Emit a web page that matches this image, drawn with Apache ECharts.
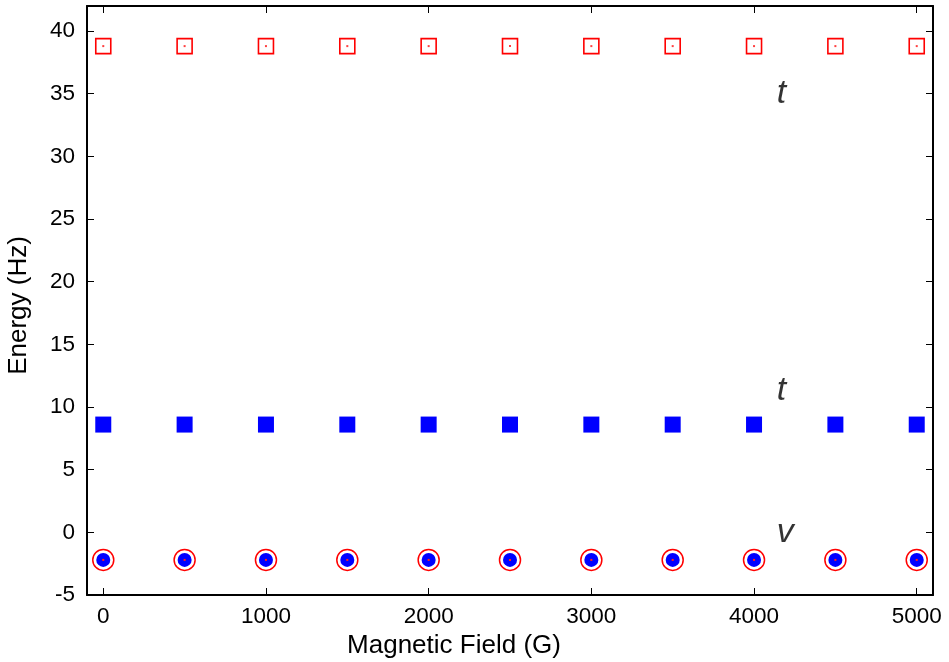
<!DOCTYPE html>
<html>
<head>
<meta charset="utf-8">
<script src="https://cdn.jsdelivr.net/npm/echarts@6/dist/echarts.min.js"></script>
<style>
html,body{margin:0;padding:0;background:#fff;}
#chart{width:949px;height:662px;}
</style>
</head>
<body>
<div id="chart"></div>
<script>
// Magnetic field values (G)
var fieldValues = [0, 500, 1000, 1500, 2000, 2500, 3000, 3500, 4000, 4500, 5000];
// Energies (Hz)
var upperT = [38.8, 38.8, 38.8, 38.8, 38.8, 38.8, 38.8, 38.8, 38.8, 38.8, 38.8];
var lowerT = [8.6, 8.6, 8.6, 8.6, 8.6, 8.6, 8.6, 8.6, 8.6, 8.6, 8.6];
var vState = [-2.2, -2.2, -2.2, -2.2, -2.2, -2.2, -2.2, -2.2, -2.2, -2.2, -2.2];
// State labels in data coordinates
var annoX = [4169, 4169, 4192];
var annoY = [35.0, 11.3, 0.0];
var annoText = ['t', 't', 'v'];

function pairs(xs, ys) {
  return xs.map(function (x, i) { return [x, ys[i]]; });
}

var FONT = 'Liberation Sans, Arial, Helvetica, sans-serif';
var chart = echarts.init(document.getElementById('chart'), null, {renderer: 'canvas'});

var axisLineStyle = {color: '#000', width: 2};
var tickStyle = {inside: true, length: 7, lineStyle: {color: '#000', width: 1}};
var plainFmt = function (v) { return String(v); };

var option = {
  backgroundColor: '#fff',
  animation: false,
  grid: {left: 87, right: 16, top: 6, bottom: 67, containLabel: false, outerBoundsMode: 'none'},
  xAxis: [
    {
      type: 'value', min: -100, max: 5100, splitNumber: 5, minInterval: 1000, maxInterval: 1000,
      position: 'bottom',
      name: 'Magnetic Field (G)', nameLocation: 'middle', nameGap: 29,
      nameTextStyle: {fontFamily: FONT, fontSize: 26, color: '#000', padding: [0, 112, 0, 0]},
      axisLine: {show: true, onZero: false, lineStyle: axisLineStyle},
      axisTick: tickStyle,
      axisLabel: {fontFamily: FONT, fontSize: 22.5, color: '#000', margin: 10, formatter: plainFmt, showMinLabel: false, showMaxLabel: false},
      splitLine: {show: false}
    },
    {
      type: 'value', min: -100, max: 5100, splitNumber: 5, minInterval: 1000, maxInterval: 1000,
      position: 'top',
      axisLine: {show: true, onZero: false, lineStyle: axisLineStyle},
      axisTick: tickStyle,
      axisLabel: {show: false},
      splitLine: {show: false}
    }
  ],
  yAxis: [
    {
      type: 'value', min: -5, max: 42, interval: 5,
      position: 'left',
      name: 'Energy (Hz)', nameLocation: 'middle', nameGap: 55,
      nameTextStyle: {fontFamily: FONT, fontSize: 26, color: '#000', padding: [0, 10, 0, 0]},
      axisLine: {show: true, onZero: false, lineStyle: axisLineStyle},
      axisTick: tickStyle,
      axisLabel: {fontFamily: FONT, fontSize: 22.5, color: '#000', margin: 12, formatter: plainFmt, showMaxLabel: false},
      splitLine: {show: false}
    },
    {
      type: 'value', min: -5, max: 42, interval: 5,
      position: 'right',
      axisLine: {show: true, onZero: false, lineStyle: axisLineStyle},
      axisTick: tickStyle,
      axisLabel: {show: false},
      splitLine: {show: false}
    }
  ],
  series: [
    {
      name: 't (upper)', type: 'scatter', data: pairs(fieldValues, upperT),
      symbol: 'rect', symbolSize: 15,
      itemStyle: {color: 'rgba(255,255,255,0)', borderColor: '#ff0000', borderWidth: 1.6, opacity: 1}
    },
    {
      name: 't (upper) centre', type: 'scatter', data: pairs(fieldValues, upperT),
      symbol: 'rect', symbolSize: 2, itemStyle: {color: '#ff4040', opacity: 1}
    },
    {
      name: 't (lower)', type: 'scatter', data: pairs(fieldValues, lowerT),
      symbol: 'rect', symbolSize: 16, itemStyle: {color: '#0000ff', opacity: 1}
    },
    {
      name: 'v ring', type: 'scatter', data: pairs(fieldValues, vState),
      symbol: 'circle', symbolSize: 21,
      itemStyle: {color: 'rgba(255,255,255,0)', borderColor: '#ff0000', borderWidth: 1.5, opacity: 1}
    },
    {
      name: 'v', type: 'scatter', data: pairs(fieldValues, vState),
      symbol: 'circle', symbolSize: 14, itemStyle: {color: '#0000ff', opacity: 1}
    },
    {
      name: 'v centre', type: 'scatter', data: pairs(fieldValues, vState),
      symbol: 'rect', symbolSize: 2, itemStyle: {color: '#ff2020', opacity: 1}
    },
    {
      name: 'labels', type: 'scatter', silent: true,
      data: annoX.map(function (x, i) { return {value: [x, annoY[i]], name: annoText[i]}; }),
      symbol: 'circle', symbolSize: 1,
      itemStyle: {color: 'rgba(0,0,0,0)'},
      label: {
        show: true, position: 'inside', formatter: '{b}',
        fontFamily: FONT, fontStyle: 'italic', fontSize: 34, color: '#000'
      }
    }
  ]
};
chart.setOption(option);
</script>
</body>
</html>
